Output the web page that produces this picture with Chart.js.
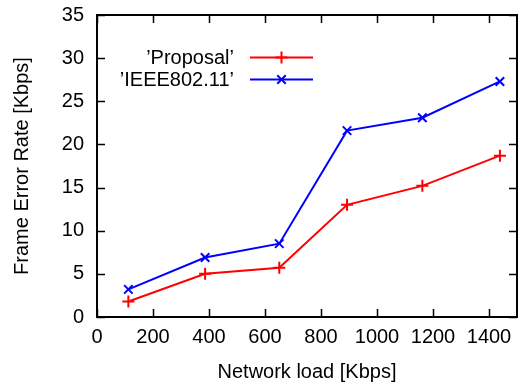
<!DOCTYPE html>
<html>
<head>
<meta charset="utf-8">
<script src="https://cdn.jsdelivr.net/npm/chart.js@4/dist/chart.umd.min.js"></script>
<style>
html, body { margin: 0; padding: 0; background: #fff; }
</style>
</head>
<body>
<canvas id="canvas" width="529" height="387"></canvas>
<script>
'use strict';

// values
let loads = [112, 386, 651, 893, 1162, 1439];
let proposal = [1.8, 5.0, 5.7, 13.0, 15.2, 18.7];
let ieee = [3.2, 6.9, 8.5, 21.6, 23.1, 27.3];
let seriesNames = ['\u2019Proposal\u2019', '\u2019IEEE802.11\u2019'];
let xTicks = [0, 200, 400, 600, 800, 1000, 1200, 1400];
let yTicks = [0, 5, 10, 15, 20, 25, 30, 35];

const FONT = {family: '"Liberation Sans", Arial, sans-serif', size: 20};

function points(xs, ys) {
   return xs.map((x, i) => ({x, y: ys[i]}));
}

// gnuplot style box with inward ticks on all four sides, plus the key
let framePlugin = {
   id: 'frame',
   afterDraw(chart) {
      let ctx = chart.ctx;
      let a = chart.chartArea;
      let xs = chart.scales.x;
      let ys = chart.scales.y;
      let tick = 8;
      ctx.save();
      ctx.strokeStyle = '#000';
      ctx.lineWidth = 1.5;
      ctx.beginPath();
      for (let v of xTicks) {
         let px = Math.round(xs.getPixelForValue(v)) + 0.5;
         ctx.moveTo(px, a.bottom);
         ctx.lineTo(px, a.bottom - tick);
         ctx.moveTo(px, a.top);
         ctx.lineTo(px, a.top + tick);
      }
      for (let v of yTicks) {
         let py = Math.round(ys.getPixelForValue(v)) + 0.5;
         ctx.moveTo(a.left, py);
         ctx.lineTo(a.left + tick, py);
         ctx.moveTo(a.right, py);
         ctx.lineTo(a.right - tick, py);
      }
      ctx.stroke();
      ctx.lineWidth = 2;
      ctx.strokeRect(a.left, a.top, a.right - a.left, a.bottom - a.top);

      // key
      let textRight = 234;
      let lineStart = 250;
      let lineEnd = 313;
      let rowY = [57, 79];
      ctx.font = FONT.size + 'px ' + FONT.family;
      ctx.textAlign = 'right';
      ctx.textBaseline = 'middle';
      chart.data.datasets.forEach((ds, i) => {
         let y = rowY[i];
         ctx.fillStyle = '#000';
         ctx.fillText(ds.label, textRight, y + 1);
         ctx.strokeStyle = ds.borderColor;
         ctx.lineWidth = 2;
         ctx.beginPath();
         ctx.moveTo(lineStart, y + 0.5);
         ctx.lineTo(lineEnd, y + 0.5);
         ctx.stroke();
         Chart.helpers.drawPoint(ctx, {
            pointStyle: ds.pointStyle,
            radius: ds.pointRadius,
            rotation: 0,
            borderWidth: 2
         }, (lineStart + lineEnd) / 2, y + 0.5);
      });
      ctx.restore();
   }
};

let ctx = document.querySelector('#canvas').getContext('2d');
let chart = new Chart(ctx, {
   type: 'line',
   data: {
      datasets: [
         {
            label: seriesNames[0],
            data: points(loads, proposal),
            borderColor: '#ff0000',
            backgroundColor: '#ff0000',
            borderWidth: 2,
            pointStyle: 'cross',
            pointRadius: 6,
            pointBorderWidth: 2,
            tension: 0
         },
         {
            label: seriesNames[1],
            data: points(loads, ieee),
            borderColor: '#0000ff',
            backgroundColor: '#0000ff',
            borderWidth: 2,
            pointStyle: 'crossRot',
            pointRadius: 6,
            pointBorderWidth: 2,
            tension: 0
         }
      ]
   },
   options: {
      responsive: false,
      animation: false,
      devicePixelRatio: 1,
      layout: {padding: {left: 0, right: 12, top: 15, bottom: 0}},
      plugins: {
         legend: {display: false},
         tooltip: {enabled: false}
      },
      scales: {
         x: {
            type: 'linear',
            min: 0,
            max: 1500,
            afterBuildTicks: s => { s.ticks = xTicks.map(v => ({value: v})); },
            afterFit: s => { s.height = 70; s.paddingLeft = 0; s.paddingRight = 0; },
            grid: {display: false, drawTicks: false},
            border: {display: false},
            ticks: {color: '#000', font: FONT, padding: 8, maxRotation: 0, autoSkip: false, callback: v => String(v)},
            title: {display: true, text: 'Network load [Kbps]', color: '#000', font: FONT, padding: {top: 0, bottom: 3}}
         },
         y: {
            type: 'linear',
            min: 0,
            max: 35,
            afterBuildTicks: s => { s.ticks = yTicks.map(v => ({value: v})); },
            afterFit: s => { s.width = 97; s.paddingTop = 0; s.paddingBottom = 0; },
            grid: {display: false, drawTicks: false},
            border: {display: false},
            ticks: {color: '#000', font: FONT, padding: 13, callback: v => String(v)},
            title: {display: true, text: 'Frame Error Rate [Kbps]', color: '#000', font: FONT, padding: {top: 10, bottom: 0}}
         }
      }
   },
   plugins: [framePlugin]
});
</script>
</body>
</html>
